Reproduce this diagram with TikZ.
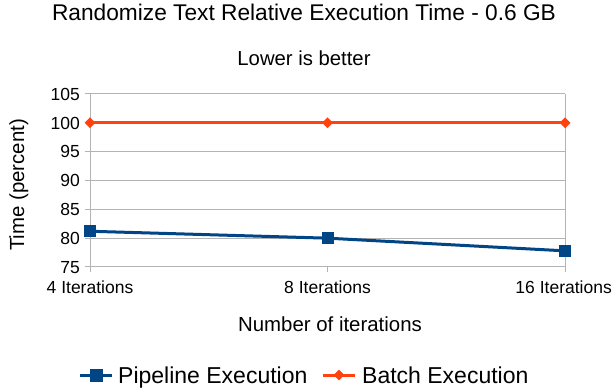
\documentclass[tikz,border=0pt]{standalone}
\usepackage{fontspec}
\setmainfont{Liberation Sans}
\usetikzlibrary{shapes.geometric}
\definecolor{pipeblue}{HTML}{004586}
\definecolor{batchorange}{HTML}{FF420E}
\definecolor{gridgray}{HTML}{B3B3B3}
\begin{document}
\begin{tikzpicture}[x=1pt,y=-1pt,
  txt/.style={inner sep=0pt,text=black},
  gridline/.style={draw=gridgray,line width=1pt},
  pipeline/.style={draw=pipeblue,line width=3pt},
  batchline/.style={draw=batchorange,line width=3pt},
  sqmark/.style={rectangle,fill=pipeblue,minimum width=12pt,minimum height=12pt,inner sep=0pt},
  dmmark/.style={diamond,fill=batchorange,minimum width=11pt,minimum height=11pt,inner sep=0pt},
  ticklab/.style={txt,font=\fontsize{17.5}{20}\selectfont},
]
\useasboundingbox (0,0) rectangle (616,390);
\fill[white] (0,0) rectangle (616,390);
% titles
\node[txt,anchor=base,font=\fontsize{22.7}{26}\selectfont] (title) at (304,21) {Randomize Text Relative Execution Time - 0.6 GB};
\node[txt,anchor=base,font=\fontsize{20.3}{24}\selectfont] (subtitle) at (304,66) {Lower is better};
% grid
\foreach \v/\yy in {105/94,100/122.83,95/151.67,90/180.5,85/209.33,80/238.17,75/267}{
  \draw[gridline] (85,\yy) -- (565,\yy);
  \node[ticklab,anchor=base east] at (80,\yy+6.2) {\v};
}
\draw[gridline] (90,94) -- (90,272);
\draw[gridline] (565,94) -- (565,272);
\draw[gridline] (327.5,267) -- (327.5,272);
% x labels
\node[ticklab,anchor=base] (xl1) at (90,294) {4 Iterations};
\node[ticklab,anchor=base] (xl2) at (327.5,294) {8 Iterations};
\node[ticklab,anchor=base east] (xl3) at (612,294) {16 Iterations};
% axis titles
\node[txt,anchor=base,font=\fontsize{20.4}{24}\selectfont] (xtitle) at (330,331) {Number of iterations};
\node[txt,anchor=base,rotate=90,font=\fontsize{20.4}{24}\selectfont] (ytitle) at (24,185) {Time (percent)};
% data
\coordinate (b1) at (90,122.83);
\coordinate (b2) at (327.5,122.83);
\coordinate (b3) at (565,122.83);
\coordinate (p1) at (90,231.25);
\coordinate (p2) at (327.5,238.17);
\coordinate (p3) at (565,250.85);
\draw[batchline] (b1) -- (b2) -- (b3);
\draw[pipeline] (p1) -- (p2) -- (p3);
\foreach \n in {b1,b2,b3}{\node[dmmark] at (\n) {};}
\foreach \n in {p1,p2,p3}{\node[sqmark] at (\n) {};}
% legend
\coordinate (la1) at (80,375);
\coordinate (la2) at (112,375);
\draw[pipeline] (la1) -- (la2);
\node[sqmark,minimum width=13pt,minimum height=13pt] (lsq) at (96,375) {};
\node[txt,anchor=base west,font=\fontsize{23}{27}\selectfont] (lt1) at (118,383) {Pipeline Execution};
\coordinate (lb1) at (323,375);
\coordinate (lb2) at (355,375);
\draw[batchline] (lb1) -- (lb2);
\node[dmmark] (ldm) at (339,375) {};
\node[txt,anchor=base west,font=\fontsize{23}{27}\selectfont] (lt2) at (362,383) {Batch Execution};
\end{tikzpicture}
\end{document}
